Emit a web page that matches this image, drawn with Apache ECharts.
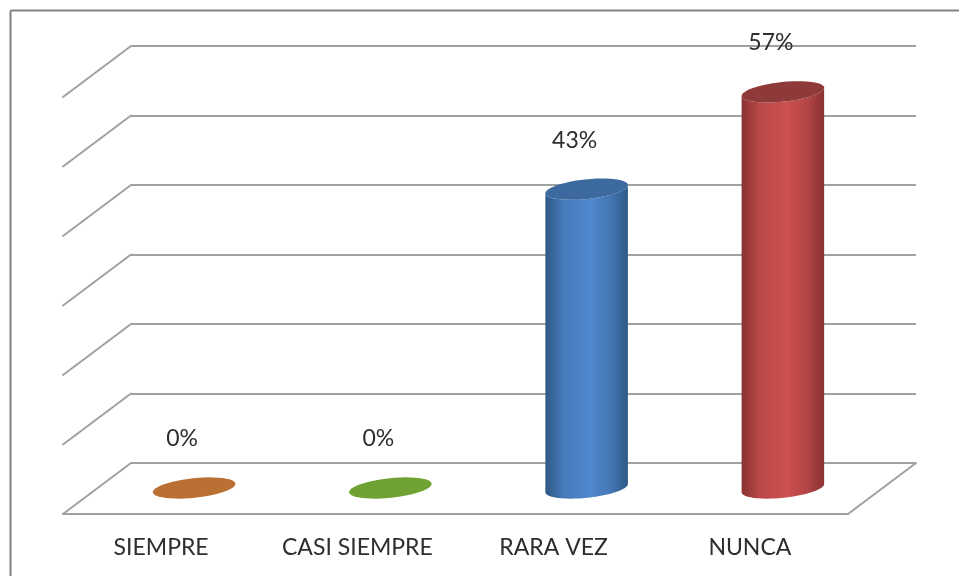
<!DOCTYPE html>
<html>
<head>
<meta charset="utf-8">
<style>
html,body{margin:0;padding:0;background:#fff;}
#chart{width:959px;height:576px;filter:blur(0.7px);}
</style>
<script src="https://cdn.jsdelivr.net/npm/echarts@6/dist/echarts.min.js"></script>
</head>
<body>
<div id="chart"></div>
<script>
const categories = ['SIEMPRE', 'CASI SIEMPRE', 'RARA VEZ', 'NUNCA'];
const percentValues = [0, 0, 43, 57];
const yTicks = [0, 10, 20, 30, 40, 50, 60];

const edgeColors = ['#b96f30', '#6fa032', '#2f5886', '#8a3232'];
const midColors = ['#b96f30', '#6fa032', '#5088cf', '#cc5250'];
const capColors = ['#bb7033', '#70a233', '#3c6a9e', '#8f3a3a'];

const RX = 41.5, RY = 9.8, TILT = 6 * Math.PI / 180;
const MID_DX = -35, MID_DY = 25;
const DEPTH_DX = -68, DEPTH_DY = 51;
const LINE = '#a0a0a0';
const FONT_SIZE = 23;

function ellipsePoint(cx, cy, t) {
  const x = RX * Math.cos(t), y = RY * Math.sin(t);
  return [cx + x * Math.cos(TILT) + y * Math.sin(TILT), cy - x * Math.sin(TILT) + y * Math.cos(TILT)];
}
function arc(cx, cy, from, to) {
  const pts = [];
  for (let i = 0; i <= 48; i++) pts.push(ellipsePoint(cx, cy, from + (to - from) * i / 48));
  return pts;
}

const chart = echarts.init(document.getElementById('chart'), null, {renderer: 'canvas'});
chart.setOption({
  animation: false,
  backgroundColor: '#ffffff',
  textStyle: {fontFamily: 'Lato'},
  graphic: [
    {type: 'line', silent: true, shape: {x1: 10.5, y1: 10.5, x2: 959, y2: 10.5}, style: {stroke: '#808080', lineWidth: 2}},
    {type: 'line', silent: true, shape: {x1: 10.5, y1: 10.5, x2: 10.5, y2: 576}, style: {stroke: '#808080', lineWidth: 2}}
  ],
  grid: [
    {left: 131, top: 46, width: 785, height: 417},
    {left: 63, top: 97, width: 785, height: 417}
  ],
  xAxis: [
    {type: 'category', gridIndex: 0, data: categories, axisLine: {show: false}, axisTick: {show: false}, axisLabel: {show: false}},
    {type: 'category', gridIndex: 1, data: categories,
      axisLine: {show: true, lineStyle: {color: LINE, width: 2}},
      axisTick: {show: false},
      axisLabel: {show: true, color: '#2e2e2e', fontSize: FONT_SIZE, fontFamily: 'Lato', margin: 22, interval: 0}}
  ],
  yAxis: [
    {type: 'value', gridIndex: 0, min: 0, max: 60, interval: 10,
      axisLine: {show: false}, axisTick: {show: false}, axisLabel: {show: false},
      splitLine: {show: true, lineStyle: {color: LINE, width: 2}}},
    {type: 'value', gridIndex: 1, min: 0, max: 60, interval: 10, show: false, splitLine: {show: false}}
  ],
  series: [
    {
      type: 'custom', name: 'depth', silent: true, xAxisIndex: 0, yAxisIndex: 0, coordinateSystem: 'cartesian2d', z: 1,
      clip: false,
      data: yTicks.map(t => [0, t]),
      encode: {x: 0, y: 1},
      renderItem(params, api) {
        const t = api.value(1);
        const size = api.size([1, 0]);
        const p = api.coord([0, t]);
        const left = p[0] - size[0] / 2;
        const children = [{type: 'line', shape: {x1: left, y1: p[1], x2: left + DEPTH_DX, y2: p[1] + DEPTH_DY},
          style: {stroke: LINE, lineWidth: 2, lineCap: 'round'}}];
        if (t === 0) {
          const right = left + size[0] * categories.length;
          children.push({type: 'line', shape: {x1: right, y1: p[1], x2: right + DEPTH_DX, y2: p[1] + DEPTH_DY},
            style: {stroke: LINE, lineWidth: 2, lineCap: 'round'}});
        }
        return {type: 'group', children};
      }
    },
    {
      type: 'custom', name: 'Serie', silent: true, xAxisIndex: 0, yAxisIndex: 0, coordinateSystem: 'cartesian2d', z: 3,
      clip: false,
      data: percentValues.map((v, i) => [i, v]),
      encode: {x: 0, y: 1},
      renderItem(params, api) {
        const i = api.value(0), v = api.value(1);
        const top = api.coord([i, v]), base = api.coord([i, 0]);
        const cx = top[0] + MID_DX, ty = top[1] + MID_DY, by = base[1] + MID_DY;
        const children = [];
        if (v > 0) {
          const body = [ellipsePoint(cx, ty, Math.PI)].concat(arc(cx, by, Math.PI, 0));
          body.push(ellipsePoint(cx, ty, 0));
          body.push.apply(body, arc(cx, ty, 0, Math.PI));
          children.push({type: 'polygon', shape: {points: body}, style: {fill: new echarts.graphic.LinearGradient(0, 0, 1, 0, [
            {offset: 0, color: edgeColors[i]},
            {offset: 0.22, color: echarts.color.lerp(0.7, [edgeColors[i], midColors[i]])},
            {offset: 0.55, color: midColors[i]},
            {offset: 0.8, color: echarts.color.lerp(0.6, [edgeColors[i], midColors[i]])},
            {offset: 1, color: edgeColors[i]}
          ])}});
        }
        children.push({type: 'polygon', shape: {points: arc(cx, ty, 0, Math.PI * 2)}, style: {fill: capColors[i]}});
        children.push({type: 'text', style: {text: v + '%', x: cx - 12, y: ty - 49, align: 'center', verticalAlign: 'middle',
          fill: '#2e2e2e', fontSize: FONT_SIZE, fontFamily: 'Lato'}});
        return {type: 'group', children};
      }
    }
  ]
});
</script>
</body>
</html>
